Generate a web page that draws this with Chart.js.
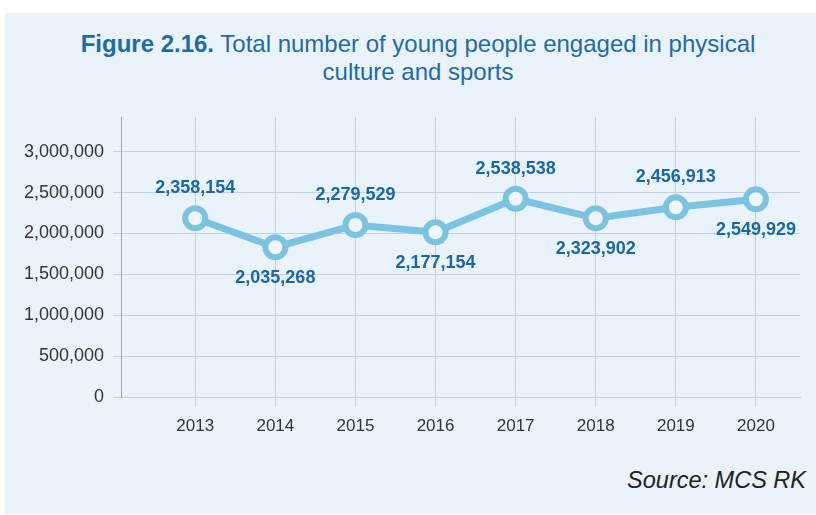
<!DOCTYPE html>
<html>
<head>
<meta charset="utf-8">
<script src="https://cdn.jsdelivr.net/npm/chart.js@4"></script>
<style>
  html, body { margin: 0; padding: 0; background: #fff; }
  #wrap { position: relative; width: 816px; height: 515px; overflow: hidden; }
  #panel { position: absolute; left: 5px; top: 13px; width: 811px; height: 501px; background: #eaf3fa; }
  #title { position: absolute; left: 5px; width: 826px; top: 30px; text-align: center;
           font-family: "Liberation Sans", Arial, sans-serif; font-size: 24px; line-height: 28px; color: #1f6aa9; }
  #title b { font-weight: bold; }
  #source { position: absolute; right: 10px; top: 467px; font-family: "Liberation Sans", Arial, sans-serif;
            font-style: italic; font-size: 23.5px; color: #222; }
  canvas { position: absolute; left: 0; top: 0; }
</style>
</head>
<body>
<div id="wrap">
  <div id="panel"></div>
  <div id="title"><b>Figure 2.16.</b> Total number of young people engaged in physical<br>culture and sports</div>
  <div id="source">Source: MCS RK</div>
  <canvas id="chart" width="816" height="515"></canvas>
</div>
<script>
const years = [2013, 2014, 2015, 2016, 2017, 2018, 2019, 2020];
// point heights as drawn in the figure
const plotted = [2186000, 1832000, 2104000, 2015000, 2425000, 2186000, 2320000, 2418000];
// numbers printed next to the points
const printed = ['2,358,154', '2,035,268', '2,279,529', '2,177,154', '2,538,538', '2,323,902', '2,456,913', '2,549,929'];
const yTicks = [0, 500000, 1000000, 1500000, 2000000, 2500000, 3000000];

const valueLabels = {
    id: 'valueLabels',
    afterDatasetsDraw(chart) {
        const ctx = chart.ctx;
        const meta = chart.getDatasetMeta(0);
        ctx.save();
        ctx.font = 'bold 18px "Liberation Sans", Arial, sans-serif';
        ctx.fillStyle = '#1a67a8';
        ctx.textAlign = 'center';
        ctx.textBaseline = 'middle';
        meta.data.forEach((pt, i) => {
            const dy = i % 2 === 0 ? -30 : 31;
            ctx.fillText(printed[i], pt.x, pt.y + dy);
        });
        ctx.restore();
    }
};

const ctx = document.getElementById('chart').getContext('2d');
const myChart = new Chart(ctx, {
    type: 'line',
    data: {
        datasets: [
            {
                data: years.map((y, i) => ({ x: y, y: plotted[i] })),
                borderColor: '#7cc3e1',
                backgroundColor: '#eef6fb',
                borderWidth: 7,
                pointRadius: 10,
                pointBorderWidth: 6,
                pointBorderColor: '#7cc3e1',
                pointBackgroundColor: '#eef6fb',
                fill: false,
                tension: 0,
                clip: false
            }
        ]
    },
    options: {
        responsive: false,
        animation: false,
        layout: {
            padding: { left: 0, top: 117, right: 16, bottom: 0 }
        },
        plugins: {
            legend: { display: false },
            tooltip: { enabled: false }
        },
        scales: {
            x: {
                type: 'linear',
                min: 2012.073,
                max: 2020.55,
                afterFit(scale) { scale.height = 118; },
                grid: { color: '#c4d0ea', lineWidth: 1, tickLength: 10 },
                border: { color: '#c4d0ea' },
                ticks: {
                    stepSize: 1,
                    includeBounds: false,
                    autoSkip: false,
                    maxRotation: 0,
                    padding: 9,
                    color: '#333',
                    font: { family: '"Liberation Sans", Arial, sans-serif', size: 17 },
                    callback: v => String(v)
                }
            },
            y: {
                min: 0,
                max: 3425000,
                afterFit(scale) { scale.width = 121; },
                afterBuildTicks(scale) { scale.ticks = yTicks.map(v => ({ value: v })); },
                grid: { color: '#c4d0ea', lineWidth: 1, tickLength: 8 },
                border: { color: '#8fa5d5' },
                ticks: {
                    padding: 9,
                    color: '#333',
                    font: { family: '"Liberation Sans", Arial, sans-serif', size: 18 },
                    callback: v => v.toLocaleString('en-US')
                }
            }
        }
    },
    plugins: [valueLabels]
});
</script>
</body>
</html>
